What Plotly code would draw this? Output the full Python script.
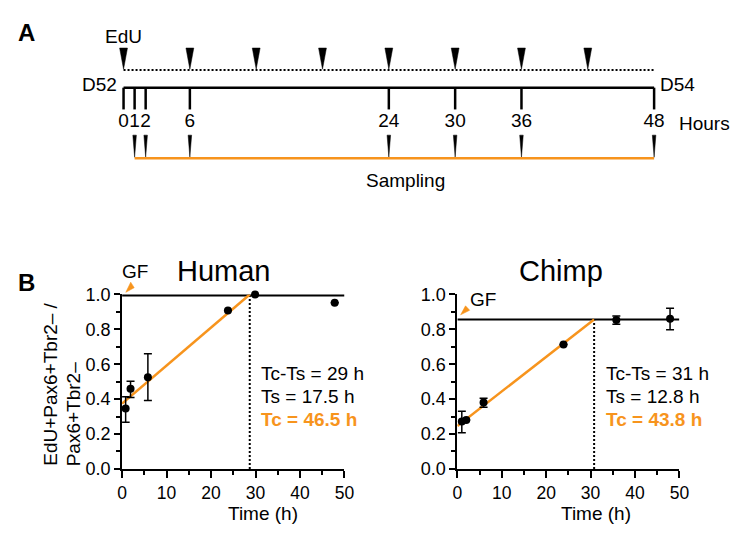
import plotly.graph_objects as go

W, H = 742, 535
FONT = "Liberation Sans, Arial, Helvetica, sans-serif"
ORANGE = "#F7941D"

# ---------------- Panel A data (hours) ----------------
edu_hours = [0, 6, 12, 18, 24, 30, 36, 42]
timeline_hours = [0, 1, 2, 6, 24, 30, 36, 48]
timeline_labels = ["0", "1", "2", "6", "24", "30", "36", "48"]
sampling_hours = [1, 2, 6, 24, 30, 36, 48]
timeline_start, timeline_end = 0, 48
sampling_start = 1

# ---------------- Panel B data ----------------
human_time = [0.8, 1.9, 5.8, 23.8, 29.9, 47.8]
human_frac = [0.346, 0.460, 0.525, 0.908, 1.0, 0.953]
human_err_plus = [0.068, 0.043, 0.135, None, None, None]
human_err_minus = [0.079, 0.051, 0.133, None, None, None]
human_gf = 1.0
human_intercept = 0.375
human_tc_ts = 28.7
human_labels = ["Tc-Ts = 29 h", "Ts = 17.5 h", "Tc = 46.5 h"]

chimp_time = [1.0, 2.0, 5.9, 23.9, 35.8, 47.9]
chimp_frac = [0.272, 0.280, 0.381, 0.713, 0.853, 0.860]
chimp_err_plus = [0.058, None, 0.024, None, 0.024, 0.061]
chimp_err_minus = [0.065, None, 0.027, None, 0.024, 0.062]
chimp_gf = 0.856
chimp_intercept = 0.246
chimp_tc_ts = 30.8
chimp_labels = ["Tc-Ts = 31 h", "Ts = 12.8 h", "Tc = 43.8 h"]

x_ticks = [0, 10, 20, 30, 40, 50]
y_ticks = [0.0, 0.2, 0.4, 0.6, 0.8, 1.0]
Y_MAX = 1.0


def px(x):
    return x / W


def py(y):
    return 1 - y / H


fig = go.Figure()

# ---------------- Panel A (x3/y3: hours vs pixel rows) ----------------
A_X0, A_X48 = 121.0, 662.5
pph = (A_X48 - A_X0) / 48.0
Y_ARROW_TOP, Y_ARROW_TIP = 39.5, 61.5
Y_DOT, Y_LINE, Y_TICK_END, Y_LAB = 62.3, 80.7, 103.3, 116.7
Y_SAMP_TOP, Y_SAMP_TIP, Y_ORANGE = 130.0, 153.0, 154.0


def wedges(hours, half_w, top, tip):
    xs, ys = [], []
    for h in hours:
        xs += [h - half_w, h + half_w, h, h - half_w, None]
        ys += [top, top, tip, top, None]
    return xs, ys


ex, ey = wedges(edu_hours, 4.0 / pph, Y_ARROW_TOP, Y_ARROW_TIP)
fig.add_trace(go.Scatter(x=ex, y=ey, mode="lines", fill="toself", fillcolor="black",
                         line=dict(color="black", width=0.5), xaxis="x3", yaxis="y3",
                         hoverinfo="skip", showlegend=False))
fig.add_trace(go.Scatter(x=[timeline_start, timeline_end], y=[Y_DOT, Y_DOT], mode="lines",
                         line=dict(color="black", width=2, dash="2px,2px"),
                         xaxis="x3", yaxis="y3", showlegend=False, hoverinfo="skip"))
fig.add_trace(go.Scatter(x=[timeline_start, timeline_end], y=[Y_LINE, Y_LINE], mode="lines",
                         line=dict(color="black", width=2.5),
                         xaxis="x3", yaxis="y3", showlegend=False, hoverinfo="skip"))
tx, ty = [], []
for h in timeline_hours:
    tx += [h, h, None]
    ty += [Y_LINE, Y_TICK_END, None]
fig.add_trace(go.Scatter(x=tx, y=ty, mode="lines", line=dict(color="black", width=2.5),
                         xaxis="x3", yaxis="y3", showlegend=False, hoverinfo="skip"))
fig.add_trace(go.Scatter(x=timeline_hours, y=[Y_LAB] * len(timeline_hours), mode="text",
                         text=timeline_labels, textposition="middle center",
                         textfont=dict(family=FONT, size=19, color="black"),
                         xaxis="x3", yaxis="y3", showlegend=False, hoverinfo="skip"))
sx, sy = wedges(sampling_hours, 1.8 / pph, Y_SAMP_TOP, Y_SAMP_TIP)
fig.add_trace(go.Scatter(x=sx, y=sy, mode="lines", fill="toself", fillcolor="black",
                         line=dict(color="black", width=0.5), xaxis="x3", yaxis="y3",
                         hoverinfo="skip", showlegend=False))
fig.add_trace(go.Scatter(x=[sampling_start, timeline_end], y=[Y_ORANGE, Y_ORANGE], mode="lines",
                         line=dict(color=ORANGE, width=2.5),
                         xaxis="x3", yaxis="y3", showlegend=False, hoverinfo="skip"))


# ---------------- Panel B ----------------
def add_panel(xa, ya, t, f, ep, em, gf, b0, tcts):
    # a GF line lying on the top edge of the plot area is half clipped: widen it
    gw = 4 if gf >= Y_MAX else 2
    fig.add_trace(go.Scatter(x=[0, 50], y=[gf, gf], mode="lines",
                             line=dict(color="black", width=gw), xaxis=xa, yaxis=ya,
                             showlegend=False, hoverinfo="skip"))
    fig.add_trace(go.Scatter(x=[tcts, tcts], y=[0, gf], mode="lines",
                             line=dict(color="black", width=2, dash="2px,2px"), xaxis=xa, yaxis=ya,
                             showlegend=False, hoverinfo="skip"))
    fig.add_trace(go.Scatter(x=[0, tcts], y=[b0, gf], mode="lines",
                             line=dict(color=ORANGE, width=2.5), xaxis=xa, yaxis=ya,
                             showlegend=False, hoverinfo="skip"))
    fig.add_trace(go.Scatter(x=t, y=f, mode="markers",
                             marker=dict(color="black", size=8),
                             error_y=dict(type="data", array=ep, arrayminus=em, symmetric=False,
                                          color="black", thickness=1.5, width=4),
                             xaxis=xa, yaxis=ya, showlegend=False, cliponaxis=False))


add_panel("x", "y", human_time, human_frac, human_err_plus, human_err_minus,
          human_gf, human_intercept, human_tc_ts)
add_panel("x2", "y2", chimp_time, chimp_frac, chimp_err_plus, chimp_err_minus,
          chimp_gf, chimp_intercept, chimp_tc_ts)

xcommon = dict(range=[0, 50], tickvals=x_ticks, showline=True, linewidth=2, linecolor="black",
               ticks="outside", ticklen=7, tickwidth=2, tickcolor="black", showgrid=False,
               zeroline=False, tickfont=dict(family=FONT, size=17.5, color="black"),
               minor=dict(dtick=5, tick0=0, ticks="outside", ticklen=4, tickwidth=2,
                          tickcolor="black", showgrid=False),
               fixedrange=True)
ycommon = dict(range=[0, Y_MAX], tickvals=y_ticks, tickformat=".1f", showline=True, linewidth=2,
               linecolor="black", ticks="outside", ticklen=6, tickwidth=2, tickcolor="black",
               showgrid=False, zeroline=False, tickfont=dict(family=FONT, size=18, color="black"),
               minor=dict(dtick=0.1, tick0=0, ticks="outside", ticklen=4, tickwidth=2,
                          tickcolor="black", showgrid=False),
               fixedrange=True)

ydom = [py(476.7), py(295.5)]
fig.update_layout(
    width=W, height=H, margin=dict(l=0, r=0, t=0, b=0),
    paper_bgcolor="white", plot_bgcolor="rgba(0,0,0,0)",
    font=dict(family=FONT, color="black"),
    xaxis=dict(domain=[px(119.5), px(346.5)], anchor="y", **xcommon),
    yaxis=dict(domain=ydom, anchor="x", **ycommon),
    xaxis2=dict(domain=[px(461.7), px(688.3)], anchor="y2", **xcommon),
    yaxis2=dict(domain=ydom, anchor="x2", **ycommon),
    xaxis3=dict(domain=[0, 1], anchor="y3", range=[-A_X0 / pph, (W - A_X0) / pph],
                visible=False, fixedrange=True),
    yaxis3=dict(domain=[0, 1], anchor="x3", range=[H, 0], visible=False, fixedrange=True),
)


def note(x, y, text, size=19, xanchor="center", yanchor="middle", bold=False, color="black",
         angle=0):
    fig.add_annotation(x=px(x), y=py(y), xref="paper", yref="paper", text=text,
                       showarrow=False, xanchor=xanchor, yanchor=yanchor, textangle=angle,
                       font=dict(family=FONT, size=size, color=color,
                                 weight="bold" if bold else "normal"))


# Panel A texts
note(22, 23, "A", size=24, bold=True)
note(120.7, 28, "EdU")
note(116, 77, "D52", xanchor="right")
note(666, 77, "D54", xanchor="left")
note(714, 118, "Hours")
note(409, 177, "Sampling")

# Panel B texts
note(22, 283, "B", size=24, bold=True)
note(224, 271, "Human", size=29)
note(567.4, 271, "Chimp", size=29)
note(132.5, 272, "GF")
note(488, 301, "GF")
note(263, 523, "Time (h)", yanchor="middle")
note(603, 523, "Time (h)", yanchor="middle")
note(47, 476, "EdU+Pax6+Tbr2– /", size=19, yanchor="bottom", angle=-90)
note(69.5, 476, "Pax6+Tbr2–", size=19, yanchor="bottom", angle=-90)

for lx, labels in ((259.5, human_labels), (611.7, chimp_labels)):
    for i, (lab, yy) in enumerate(zip(labels, [378, 402, 425.5])):
        last = i == 2
        note(lx, yy, lab, xanchor="left", bold=last, color=ORANGE if last else "black")

# GF orange arrowheads
for tri in (((123.3, 293.3), (128.3, 282.7), (131.9, 288.5)),
            ((465.0, 316.7), (470.0, 307.3), (474.3, 311.9))):
    path = "M {} {} L {} {} L {} {} Z".format(px(tri[0][0]), py(tri[0][1]), px(tri[1][0]),
                                               py(tri[1][1]), px(tri[2][0]), py(tri[2][1]))
    fig.add_shape(type="path", path=path, xref="paper", yref="paper",
                  fillcolor=ORANGE, line=dict(color=ORANGE, width=0.5))

fig.write_html("out.html", config={"displayModeBar": False},
               post_script="document.body.style.margin='0px';document.body.style.padding='0px';")
